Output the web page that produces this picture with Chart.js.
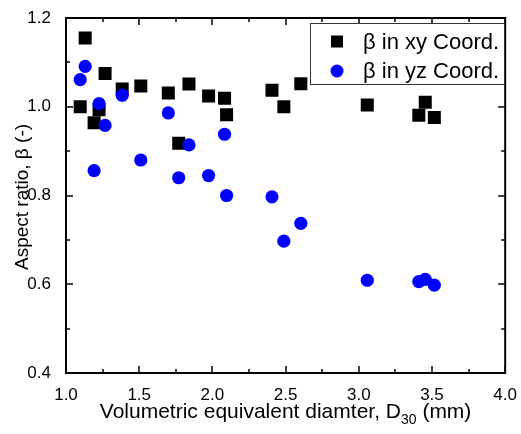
<!DOCTYPE html>
<html>
<head>
<meta charset="utf-8">
<script src="https://cdn.jsdelivr.net/npm/chart.js@4.4.0/dist/chart.umd.min.js"></script>
<style>
  html, body { margin: 0; padding: 0; background: #fff; }
  #wrap { width: 521px; height: 434px; }
</style>
</head>
<body>
<div id="wrap"><canvas id="grafico" width="521" height="434"></canvas></div>
<script>
// D30 values (mm), shared by both series
const diam = [1.097, 1.131, 1.192, 1.226, 1.267, 1.384, 1.511, 1.699, 1.770, 1.840,
              1.974, 2.083, 2.097, 2.407, 2.488, 2.604, 3.058, 3.410, 3.454, 3.516];
// aspect ratio in xy plane
const betaXY = [1.000, 1.155, 0.964, 0.993, 1.075, 1.040, 1.047, 1.031, 0.918, 1.051,
                1.024, 1.019, 0.982, 1.037, 1.000, 1.052, 1.004, 0.981, 1.010, 0.976];
// aspect ratio in yz plane
const betaYZ = [1.061, 1.091, 0.856, 1.007, 0.958, 1.026, 0.880, 0.986, 0.840, 0.914,
                0.845, 0.938, 0.800, 0.797, 0.697, 0.737, 0.609, 0.606, 0.611, 0.598];

const seriesNames = ['\u03B2 in xy Coord.', '\u03B2 in yz Coord.'];
const xTicks = [1.0, 1.5, 2.0, 2.5, 3.0, 3.5, 4.0];
const yTicks = [0.4, 0.6, 0.8, 1.0, 1.2];

const FONT = "'Liberation Sans', Arial, sans-serif";

const pts = ys => diam.map((x, i) => ({ x: x, y: ys[i] }));

// frame, inward ticks on all four sides, titles and legend
const decor = {
  id: 'decor',
  afterDraw(chart) {
    const c = chart.ctx;
    const a = chart.chartArea;
    const xs = chart.scales.x, ys = chart.scales.y;
    c.save();
    c.strokeStyle = '#000';
    c.lineWidth = 2;
    c.strokeRect(a.left, a.top, a.right - a.left, a.bottom - a.top);

    c.lineWidth = 1.5;
    c.beginPath();
    for (let v = 1.0; v <= 4.0001; v += 0.25) {
      const px = Math.round(xs.getPixelForValue(v));
      const len = Math.abs((v * 2) - Math.round(v * 2)) < 0.01 ? 7 : 4;
      c.moveTo(px, a.bottom); c.lineTo(px, a.bottom - len);
      c.moveTo(px, a.top); c.lineTo(px, a.top + len);
    }
    for (let v = 0.4; v <= 1.2001; v += 0.1) {
      const py = Math.round(ys.getPixelForValue(v));
      const len = Math.abs((v * 5) - Math.round(v * 5)) < 0.01 ? 7 : 4;
      c.moveTo(a.left, py); c.lineTo(a.left + len, py);
      c.moveTo(a.right, py); c.lineTo(a.right - len, py);
    }
    c.stroke();

    // x title with subscript
    c.fillStyle = '#000';
    c.textBaseline = 'alphabetic';
    const big = '21px ' + FONT, small = '14px ' + FONT;
    const p1 = 'Volumetric equivalent diamter, D', p2 = '30', p3 = ' (mm)';
    c.font = big;
    const w1 = c.measureText(p1).width, w3 = c.measureText(p3).width;
    c.font = small;
    const w2 = c.measureText(p2).width;
    let tx = (a.left + a.right) / 2 - (w1 + w2 + w3) / 2;
    const ty = 418;
    c.font = big; c.textAlign = 'left';
    c.fillText(p1, tx, ty); tx += w1;
    c.font = small; c.fillText(p2, tx, ty + 6); tx += w2;
    c.font = big; c.fillText(p3, tx, ty);

    // y title
    c.save();
    c.translate(28, 197);
    c.rotate(-Math.PI / 2);
    c.textAlign = 'center';
    c.font = '19px ' + FONT;
    c.fillText('Aspect ratio, \u03B2 (-)', 0, 0);
    c.restore();

    // legend box
    c.lineWidth = 1;
    c.strokeStyle = '#333';
    c.fillStyle = '#fff';
    c.fillRect(310.5, 23.5, 194, 61);
    c.strokeRect(310.5, 23.5, 194, 61);
    const rows = [41.5, 71];
    chart.data.datasets.forEach((ds, i) => {
      const ly = rows[i];
      c.fillStyle = ds.backgroundColor;
      if (ds.pointStyle === 'rect') {
        c.fillRect(331, ly - 6, 12, 12);
      } else {
        c.beginPath(); c.arc(337, ly, 6.5, 0, Math.PI * 2); c.fill();
      }
      c.fillStyle = '#000';
      c.font = '22px ' + FONT;
      c.textAlign = 'left';
      c.textBaseline = 'middle';
      c.fillText(ds.label, 363, ly + 1);
    });
    c.restore();
  }
};

new Chart(document.getElementById('grafico').getContext('2d'), {
  type: 'scatter',
  data: {
    datasets: [{
      label: seriesNames[0],
      data: pts(betaXY),
      pointStyle: 'rect',
      pointRadius: 9.2,
      pointHoverRadius: 9.2,
      backgroundColor: '#000000',
      borderColor: '#000000',
      borderWidth: 0,
      order: 1
    }, {
      label: seriesNames[1],
      data: pts(betaYZ),
      pointStyle: 'circle',
      pointRadius: 6.6,
      pointHoverRadius: 6.6,
      backgroundColor: '#0000ff',
      borderColor: '#0000ff',
      borderWidth: 0,
      order: 0
    }]
  },
  options: {
    responsive: false,
    animation: false,
    layout: { padding: { top: 18, right: 14, left: 0, bottom: 0 } },
    plugins: { legend: { display: false }, tooltip: { enabled: false } },
    scales: {
      x: {
        type: 'linear', min: 1, max: 4,
        afterBuildTicks: s => { s.ticks = xTicks.map(v => ({ value: v })); },
        afterFit: s => { s.height = 61; },
        ticks: {
          callback: v => v.toFixed(1),
          font: { family: FONT, size: 17 }, color: '#000',
          padding: 4, maxRotation: 0, autoSkip: false
        },
        grid: { display: false },
        border: { display: false }
      },
      y: {
        min: 0.4, max: 1.2,
        afterBuildTicks: s => { s.ticks = yTicks.map(v => ({ value: v })); },
        afterFit: s => { s.width = 66; },
        ticks: {
          callback: v => v.toFixed(1),
          font: { family: FONT, size: 17 }, color: '#000',
          padding: 7
        },
        grid: { display: false },
        border: { display: false }
      }
    }
  },
  plugins: [decor]
});
</script>
</body>
</html>
